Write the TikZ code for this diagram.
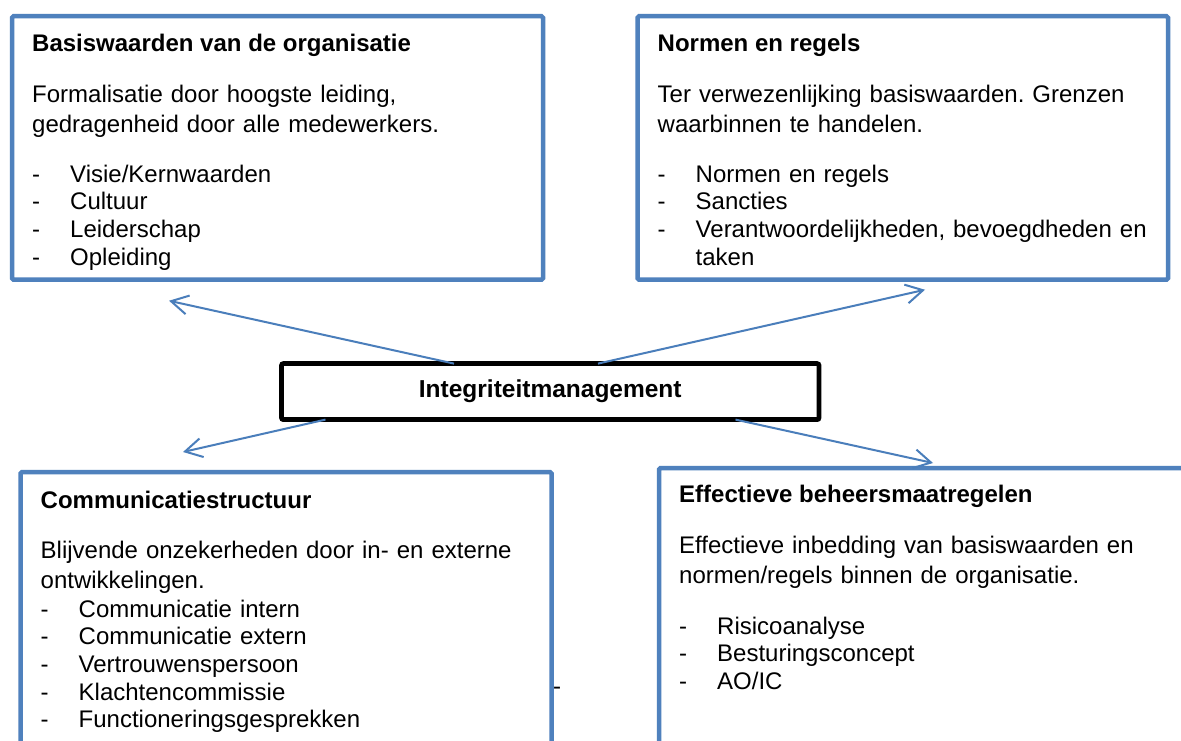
\documentclass[tikz,border=0pt]{standalone}
\usepackage{fontspec}
\setmainfont{Liberation Sans}
\usepackage{xcolor}
\usetikzlibrary{arrows.meta, positioning}

\definecolor{boxblue}{RGB}{79,129,189}
\definecolor{arrowblue}{RGB}{74,126,187}
\newcommand{\dashitem}[1]{\makebox[38pt][l]{-}#1}
\frenchspacing

\begin{document}
\begin{tikzpicture}[
    x=1pt, y=1pt,
    panel/.style={rectangle, draw=boxblue, line width=4.5pt, rounded corners=1.5pt, outer sep=0pt, inner sep=0pt},
    centre/.style={rectangle, draw=black, line width=4.8pt, rounded corners=2pt, outer sep=0pt, inner sep=0pt, font=\fontsize{24.5}{28}\selectfont\bfseries},
    title/.style={anchor=base west, inner sep=0pt, font=\fontsize{24}{28}\selectfont\bfseries},
    body/.style={anchor=base west, inner sep=0pt, text width=520pt, align=left, font=\fontsize{24}{30}\selectfont},
    items/.style={anchor=base west, inner sep=0pt, text width=520pt, align=left, font=\fontsize{24}{27.7}\selectfont},
    arrow/.style={-{Straight Barb[length=17pt, width=19pt]}, draw=arrowblue, line width=2pt}
]
    \useasboundingbox (0,0) rectangle (1181,740);
    \fill[white] (0,0) rectangle (1181,740);
    \clip (0,0) rectangle (1181,740);

    % the four blocks
    \node[panel, minimum width=531pt, minimum height=263.5pt] (basis) at (277.5,592) {};
    \node[panel, minimum width=530.5pt, minimum height=263.5pt] (normen) at (902.75,592) {};
    \node[panel, minimum width=531pt, minimum height=298pt] (comm) at (286,119) {};
    \node[panel, minimum width=551pt, minimum height=302pt] (beheer) at (934.5,121) {};

    % centre
    \node[centre, minimum width=537.5pt, minimum height=56pt] (integ) at (550.25,348.4) {Integriteitmanagement};

    % texts
    \node[title] (basistitle) at ([shift={(20,-35)}]basis.north west) {Basiswaarden van de organisatie};
    \node[body] (basisbody) at ([shift={(20,-86)}]basis.north west) {Formalisatie door hoogste leiding,\\gedragenheid door alle medewerkers.};
    \node[items] (basislist) at ([shift={(20,-166)}]basis.north west) {\dashitem{Visie/Kernwaarden}\\\dashitem{Cultuur}\\\dashitem{Leiderschap}\\\dashitem{Opleiding}};

    \node[title] (normentitle) at ([shift={(20,-35)}]normen.north west) {Normen en regels};
    \node[body] (normenbody) at ([shift={(20,-86)}]normen.north west) {Ter verwezenlijking basiswaarden. Grenzen\\waarbinnen te handelen.};
    \node[items] (normenlist) at ([shift={(20,-166)}]normen.north west) {\dashitem{Normen en regels}\\\dashitem{Sancties}\\\dashitem{Verantwoordelijkheden, bevoegdheden en}\\\hspace*{38pt}taken};

    \node[title] (commtitle) at ([shift={(20,-36)}]comm.north west) {Communicatiestructuur};
    \node[body] (commbody) at ([shift={(20,-86)}]comm.north west) {Blijvende onzekerheden door in- en externe\\ontwikkelingen.};
    \node[items] (commlist) at ([shift={(20,-145)}]comm.north west) {\dashitem{Communicatie intern}\\\dashitem{Communicatie extern}\\\dashitem{Vertrouwenspersoon}\\\dashitem{Klachtencommissie}\\\dashitem{Functioneringsgesprekken}};
    \node[items, text width=20pt] (stray) at (553,46) {-};

    \node[title] (beheertitle) at ([shift={(20,-34)}]beheer.north west) {Effectieve beheersmaatregelen};
    \node[body] (beheerbody) at ([shift={(20,-85)}]beheer.north west) {Effectieve inbedding van basiswaarden en\\normen/regels binnen de organisatie.};
    \node[items] (beheerlist) at ([shift={(20,-166)}]beheer.north west) {\dashitem{Risicoanalyse}\\\dashitem{Besturingsconcept}\\\dashitem{AO/IC}};

    % arrow ends
    \coordinate (tipbasis) at ([shift={(157,-21)}]basis.south west);
    \coordinate (tipnormen) at ([shift={(287.5,-10)}]normen.south west);
    \coordinate (tipcomm) at ([shift={(162.5,20)}]comm.north west);
    \coordinate (tipbeheer) at ([shift={(274,5)}]beheer.north west);

    \draw[arrow] ([xshift=172.5pt]integ.north west) -- (tipbasis);
    \draw[arrow] ([xshift=316.5pt]integ.north west) -- (tipnormen);
    \draw[arrow] ([xshift=44pt]integ.south west) -- (tipcomm);
    \draw[arrow] ([xshift=454pt]integ.south west) -- (tipbeheer);
\end{tikzpicture}
\end{document}
